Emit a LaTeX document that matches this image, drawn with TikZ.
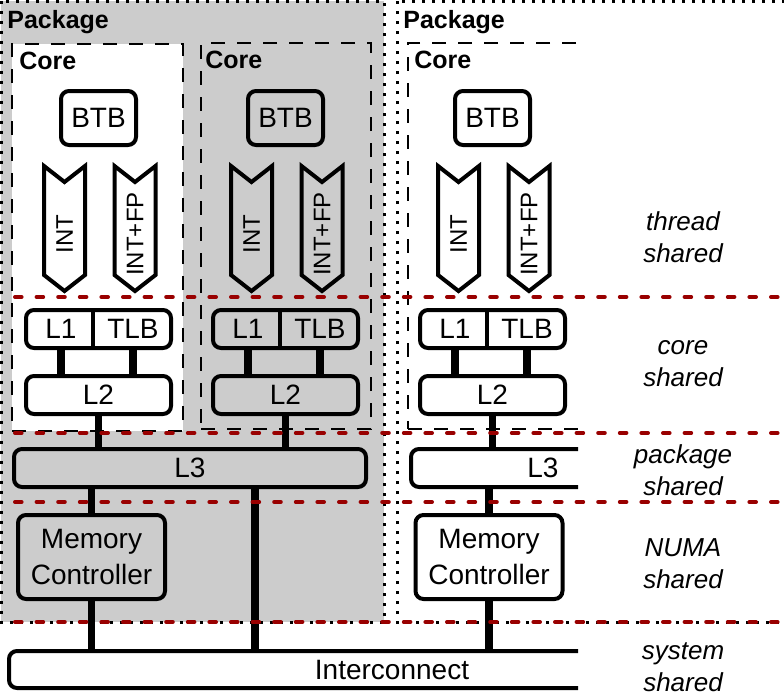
\documentclass[tikz,border=0pt]{standalone}
\usepackage{fontspec}
\setmainfont{Liberation Sans}
\definecolor{levelred}{RGB}{153,0,0}

\begin{document}
\begin{tikzpicture}[x=0.5pt, y=-0.5pt,
	box/.style={draw, line width=2pt, rounded corners=4pt, inner sep=0pt, align=center, font=\fontsize{14pt}{18pt}\selectfont},
	part/.style={inner sep=0pt, minimum height=19pt, font=\fontsize{14pt}{18pt}\selectfont},
	corebox/.style={draw, line width=1pt, dash pattern=on 7pt off 6pt},
	pkg/.style={draw, line width=1.5pt, dash pattern=on 1.5pt off 3.5pt},
	title/.style={anchor=base west, inner sep=0pt, font=\fontsize{12.5pt}{15pt}\selectfont\bfseries},
	bus/.style={line width=3.6pt},
	level/.style={draw=levelred, line width=2pt, line cap=round, dash pattern=on 3.3pt off 7.5pt},
	layer/.style={align=center, font=\fontsize{13pt}{16pt}\selectfont\itshape}]
	\useasboundingbox (0,0) rectangle (784,692);

	% packages
	\fill[black!20] (1,1) rectangle (384,622);
	\draw[pkg] (1,1) rectangle (384,622);
	\draw[pkg] (397,1) rectangle (800,622);
	\node[title] (pkglefttitle) at (7,28) {Package};
	\node[title] (pkgrighttitle) at (403,28) {Package};

	% cores
	\node[corebox, fill=white, minimum width=85.5pt, minimum height=193.5pt](coreone) at (97.5,237.5){};
	\node[corebox, minimum width=85pt, minimum height=193pt](coretwo) at (286,236){};
	\node[title] (coreonetitle) at (19,69) {Core};
	\node[title] (coretwotitle) at (205,68) {Core};

	\node[box, minimum width=37.5pt, minimum height=27pt](btbone) at (98.5,118){BTB};
	\node[box, minimum width=37.5pt, minimum height=27pt](btbtwo) at (285.5,118){BTB};

	\foreach \x/\name/\txt in {64.5/intone/INT, 135/fpone/INT+FP, 251.5/inttwo/INT, 322/fptwo/INT+FP, 458.5/intthree/INT, 529/fpthree/INT+FP}{
		\draw[line width=2pt] (\x-20.5,166) -- (\x,182) -- (\x+20.5,166) -- (\x+20.5,275) -- (\x,291) -- (\x-20.5,275) -- cycle;
		\node[rotate=90, inner sep=0pt, font=\fontsize{12pt}{14pt}\selectfont](\name) at (\x,234){\txt};
	}

	\node[box, minimum width=72.5pt, minimum height=19pt](cacheone) at (98.5,329){};
	\node[part, minimum width=32pt](l1one) at (61,329){L1};
	\node[part, minimum width=40pt](tlbone) at (133,329){TLB};
	\draw[line width=2pt] (l1one.north east) -- (l1one.south east);
	\node[box, minimum width=72.5pt, minimum height=19pt](l2one) at (98.5,395){L2};

	\node[box, minimum width=72.5pt, minimum height=19pt](cachetwo) at (285.5,329){};
	\node[part, minimum width=32pt](l1two) at (248,329){L1};
	\node[part, minimum width=40pt](tlbtwo) at (320,329){TLB};
	\draw[line width=2pt] (l1two.north east) -- (l1two.south east);
	\node[box, minimum width=72.5pt, minimum height=19pt](l2two) at (285.5,395){L2};

	% left package
	\node[box, minimum width=176pt, minimum height=19pt](l3left) at (190,468){L3};
	\node[box, minimum width=73.5pt, minimum height=42pt](mcleft) at (91.5,557){Memory\\Controller};
	\coordinate (tapleft) at (255,0);

	% right package, cut at the edge
	\begin{scope}
		\clip (0,0) rectangle (578,692);
		\node[corebox, minimum width=88.5pt, minimum height=193pt](corethree) at (496.5,236){};
		\node[box, minimum width=37.5pt, minimum height=27pt](btbthree) at (492.5,118){BTB};
		\node[box, minimum width=72.5pt, minimum height=19pt](cachethree) at (492.5,329){};
		\node[part, minimum width=32pt](l1three) at (455,329){L1};
		\node[part, minimum width=40pt](tlbthree) at (527,329){TLB};
		\draw[line width=2pt] (l1three.north east) -- (l1three.south east);
		\node[box, minimum width=72.5pt, minimum height=19pt](l2three) at (492.5,395){L2};
		\node[box, minimum width=132pt, minimum height=19pt](l3right) at (543,468){L3};
		\node[box, minimum width=73.5pt, minimum height=42pt](mcright) at (489,557){Memory\\Controller};
		\node[box, minimum width=383pt, minimum height=18.5pt](net) at (392,669.5){Interconnect};
		\draw[bus] (l1three.south) -- (l1three.south |- l2three.north);
		\draw[bus] (tlbthree.south) -- (tlbthree.south |- l2three.north);
		\draw[bus] (l2three.south) -- (l2three.south |- l3right.north);
		\draw[bus] (mcright.north) -- (mcright.north |- l3right.south);
		\draw[bus] (mcright.south) -- (mcright.south |- net.north);
	\end{scope}
	\node[title] (corethreetitle) at (414,68) {Core};

	\draw[bus] (l1one.south) -- (l1one.south |- l2one.north);
	\draw[bus] (tlbone.south) -- (tlbone.south |- l2one.north);
	\draw[bus] (l1two.south) -- (l1two.south |- l2two.north);
	\draw[bus] (tlbtwo.south) -- (tlbtwo.south |- l2two.north);
	\draw[bus] (l2one.south) -- (l2one.south |- l3left.north);
	\draw[bus] (l2two.south) -- (l2two.south |- l3left.north);
	\draw[bus] (mcleft.north) -- (mcleft.north |- l3left.south);
	\draw[bus] (mcleft.south) -- (mcleft.south |- net.north);
	\draw[bus] (l3left.south -| tapleft) -- (net.north -| tapleft);

	% sharing levels
	\draw[level] (15,297) -- (784,297);
	\draw[level] (15,433) -- (784,433);
	\draw[level] (15,502) -- (784,502);
	\draw[level] (15,622) -- (784,622);

	\node[layer] (threadlabel) at (683,237) {thread\\shared};
	\node[layer] (corelabel) at (683,364) {core\\shared};
	\node[layer] (packagelabel) at (683,470) {package\\shared};
	\node[layer] (numalabel) at (683,564) {NUMA\\shared};
	\node[layer] (systemlabel) at (683,667) {system\\shared};
\end{tikzpicture}
\end{document}
